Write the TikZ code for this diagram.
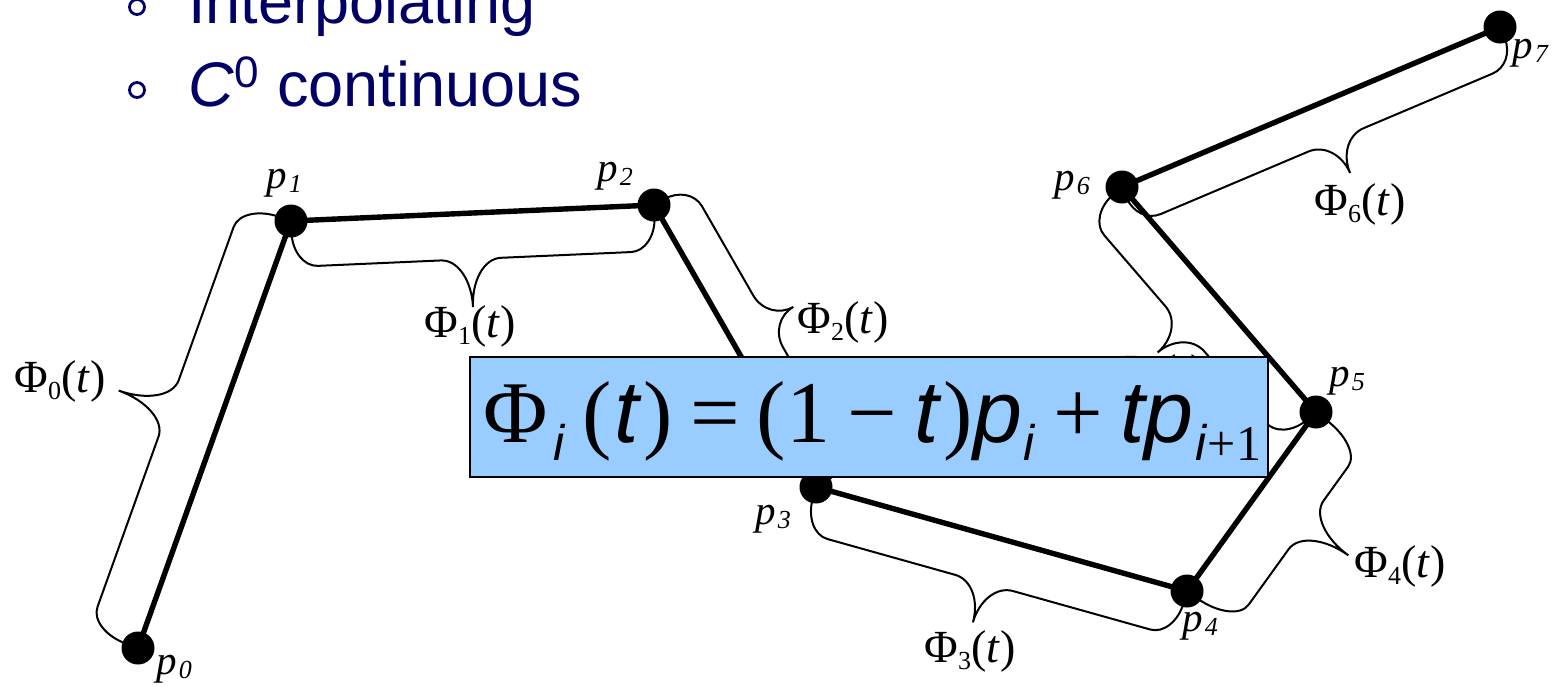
\documentclass[tikz,border=0pt]{standalone}
\usepackage{fontspec}
\setmainfont{Liberation Serif}
\setsansfont{Liberation Sans}
\usetikzlibrary{calc}
\definecolor{navy}{RGB}{0,0,102}
\definecolor{boxblue}{HTML}{99CCFF}
\newcommand\psub[1]{\kern1pt\raisebox{-0.25ex}{\fontsize{13}{13}\selectfont\itshape #1}}
\newcommand\fsub[1]{\raisebox{-0.35ex}{\fontsize{13}{13}\selectfont #1}}
\newcommand\philab[1]{Φ\fsub{#1}(\textit{t})}
\newcommand\plab[1]{\textit{p}\psub{#1}}
\newcommand\ist[1]{\textsf{\textit{#1}}}
\newcommand\bsub[1]{\raisebox{-9pt}{\fontsize{25}{25}\selectfont #1}}
\newcommand\phibrace[6]{% A, B, h, H, aspect, sign
  \pgfpointdiff{\pgfpointanchor{#1}{center}}{\pgfpointanchor{#2}{center}}%
  \pgfgetlastxy{\bdx}{\bdy}%
  \pgfmathsetmacro\bang{atan2(\bdy,\bdx)}%
  \pgfmathsetmacro\blen{2*veclen(\bdx,\bdy)}%
  \pgfmathsetmacro\bmid{#5*\blen}%
  \pgfmathsetmacro\bcy{12+0.55*(#3-12)}%
  \pgfmathsetmacro\bty{#3+0.45*(#4-#3)}%
  \begin{scope}[shift={(#1)}, rotate=\bang, x=0.5pt, y=0.5pt, yscale=#6]
    \draw[bracestyle] (0,12) .. controls (0,\bcy) and (11,#3) .. (25,#3)
      -- ({\bmid-30},#3) .. controls ({\bmid-13},#3) and (\bmid,\bty) .. (\bmid,#4)
      .. controls (\bmid,\bty) and ({\bmid+13},#3) .. ({\bmid+30},#3)
      -- ({\blen-25},#3) .. controls ({\blen-11},#3) and (\blen,\bcy) .. (\blen,12);
  \end{scope}}
\tikzset{
  seg/.style={line width=2.7pt},
  bracestyle/.style={line width=1pt},
  dot/.style={circle, fill=black, minimum size=16.5pt, inner sep=0pt},
  plabel/.style={inner sep=0pt, anchor=base west, font=\fontsize{20.5}{20.5}\selectfont\itshape},
  philabel/.style={inner sep=0pt, anchor=base, font=\fontsize{23}{23}\selectfont},
  toptext/.style={inner sep=0pt, text=navy, font=\sffamily\fontsize{31.5}{31.5}\selectfont},
  bulletc/.style={circle, draw=navy, line width=1.4pt, minimum size=7.5pt, inner sep=0pt},
  eqbox/.style={draw=black, line width=1.2pt, fill=boxblue, minimum width=399pt, minimum height=60pt, inner sep=0pt},
  eqtext/.style={inner sep=0pt, anchor=base, font=\fontsize{44}{44}\selectfont}
}
\begin{document}
\begin{tikzpicture}[x=0.5pt, y=-0.5pt]
\useasboundingbox (0,0) rectangle (1557,687);
% points
\coordinate (p0) at (138,648);
\coordinate (p1) at (291,221);
\coordinate (p2) at (654,205);
\coordinate (p3) at (816,487);
\coordinate (p4) at (1187,591);
\coordinate (p5) at (1316,412);
\coordinate (p6) at (1122,187);
\coordinate (p7) at (1500,27);
% polyline
\draw[seg] (p0) -- (p1) -- (p2) -- (p3) -- (p4) -- (p5) -- (p6) -- (p7);
% braces
\phibrace{p0}{p1}{52}{105}{0.52}{1}
\phibrace{p1}{p2}{46}{94}{0.49}{-1}
\phibrace{p2}{p3}{41}{70}{0.485}{1}
\phibrace{p3}{p4}{47}{88}{0.487}{-1}
\phibrace{p4}{p5}{58}{110}{0.56}{-1}
\phibrace{p5}{p6}{45}{81}{0.5}{1}
\phibrace{p6}{p7}{40}{76}{0.525}{-1}
% dots
\foreach \i in {0,...,7} { \node[dot] (d\i) at (p\i) {}; }
% point labels
\node[plabel] (l0) at (156,674) {\plab{0}};
\node[plabel] (l1) at (266,188) {\plab{1}};
\node[plabel] (l2) at (597,181) {\plab{2}};
\node[plabel] (l3) at (755,524) {\plab{3}};
\node[plabel] (l4) at (1182,631) {\plab{4}};
\node[plabel] (l5) at (1329,386) {\plab{5}};
\node[plabel] (l6) at (1054,190) {\plab{6}};
\node[plabel] (l7) at (1512,58) {\plab{7}};
% phi labels
\node[philabel] (f0) at (60,392) {\philab{0}};
\node[philabel] (f1) at (470,337) {\philab{1}};
\node[philabel] (f2) at (843,333) {\philab{2}};
\node[philabel] (f3) at (970,662) {\philab{3}};
\node[philabel] (f4) at (1400,577) {\philab{4}};
\node[philabel] (f5) at (1160,386) {\philab{5}};
\node[philabel] (f6) at (1360,215) {\philab{6}};
% formula box
\node[eqbox] (eq) at (869,417) {};
\node[eqtext] (eqt) at (872,442) {\makebox[389pt][s]{%
  Φ\kern3pt\bsub{\ist{i}}\hfill(\kern1pt\ist{t}\kern1pt)\hfill=\hfill(1\hfill−\hfill\ist{t}\kern1pt)\ist{p}\kern1pt\bsub{\ist{i}}\hfill+\hfill\ist{tp}\kern1pt\bsub{\ist{i}+1}}};
% top text
\node[bulletc] (b1) at (137,7) {};
\node[bulletc] (b2) at (137,90) {};
\node[toptext, anchor=base west] (t1) at (188,23) {Interpolating};
\node[toptext, anchor=base west] (t2) at (188,106) {\textit{C}\textsuperscript{0} continuous};
\end{tikzpicture}
\end{document}
